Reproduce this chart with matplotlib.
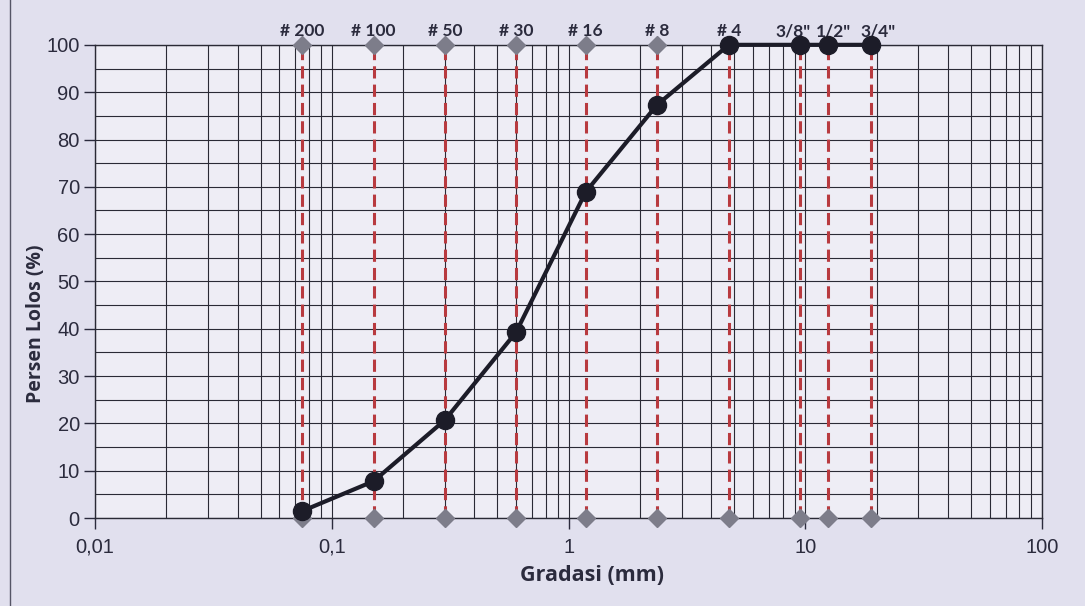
import numpy as np
import matplotlib.pyplot as plt
from matplotlib.ticker import FixedLocator, FixedFormatter, MultipleLocator, LogLocator, NullFormatter
from matplotlib.patches import Rectangle

# sieve data
sieve_lbl = ['# 200', '# 100', '# 50', '# 30', '# 16', '# 8', '# 4', '3/8"', '1/2"', '3/4"']
sieve_mm = [0.075, 0.15, 0.3, 0.6, 1.18, 2.36, 4.75, 9.5, 12.5, 19.0]
lolos = [1.5, 7.8, 20.7, 39.3, 68.9, 87.3, 100, 100, 100, 100]

xticks = [0.01, 0.1, 1, 10, 100]
xtick_lbl = ['0,01', '0,1', '1', '10', '100']

txt_c = '#2b2b3d'
plt.rcParams['font.family'] = ['Liberation Sans', 'DejaVu Sans']
lbl_font = ['Open Sans', 'DejaVu Sans']

fig = plt.figure(figsize=(10.85, 6.06), dpi=100, facecolor='#e1e0ee')
ax = fig.add_axes([0.0876, 0.145, 0.873, 0.781])
ax.set_facecolor('#eeedf5')
fig.patches.append(Rectangle((0.009, -0.01), 1.2, 1.2, transform=fig.transFigure,
                             fill=False, ec='#555566', lw=1))

ax.set_xscale('log')
ax.set_xlim(0.01, 100)
ax.set_ylim(0, 100)

ax.xaxis.set_major_locator(FixedLocator(xticks))
ax.xaxis.set_major_formatter(FixedFormatter(xtick_lbl))
ax.xaxis.set_minor_locator(LogLocator(base=10, subs=np.arange(2, 10)))
ax.xaxis.set_minor_formatter(NullFormatter())
ax.yaxis.set_major_locator(MultipleLocator(10))
ax.yaxis.set_minor_locator(MultipleLocator(5))

ax.grid(which='both', color='#2a2a35', lw=0.8)
ax.set_axisbelow(True)
for s in ax.spines.values():
    s.set_color('#2a2a35')
    s.set_linewidth(1)

ax.tick_params(axis='both', which='major', labelsize=14.5, colors=txt_c, length=8, width=1)
ax.tick_params(axis='x', which='major', pad=6)
ax.tick_params(axis='y', which='major', pad=3)
ax.tick_params(which='minor', length=0)

# sieve lines with diamonds
for x in sieve_mm:
    ax.plot([x, x], [0, 100], ls=(0, (4, 2)), color='#b83a3f', lw=2.2, zorder=2)
    ax.plot([x, x], [0, 100], ls='none', marker='D', ms=9, color='#7d7d8a', zorder=3, clip_on=False)

# small nudges so the crowded inch labels don't collide
lbl_dx = [0, 0, 0, 0, 0, 0, 0, -5, 4, 5]
for x, l, dx in zip(sieve_mm, sieve_lbl, lbl_dx):
    ax.annotate(l, (x, 100), xytext=(dx, 4), textcoords='offset points', ha='center', va='bottom',
                fontsize=12.5, fontweight='bold', color=txt_c, family=['Lato', 'DejaVu Sans'])

ax.plot(sieve_mm, lolos, color='#1c1c28', lw=3, marker='o', ms=13, zorder=5, clip_on=False)

ax.set_xlabel('Gradasi (mm)', fontsize=15.5, fontweight='bold', color=txt_c, family=lbl_font)
ax.set_ylabel('Persen Lolos (%)', fontsize=14, fontweight='bold', color=txt_c, family=lbl_font)
ax.xaxis.set_label_coords(0.525, -0.1)
ax.yaxis.set_label_coords(-0.052, 0.41)

fig.savefig('out.png', dpi=100, facecolor=fig.get_facecolor())
